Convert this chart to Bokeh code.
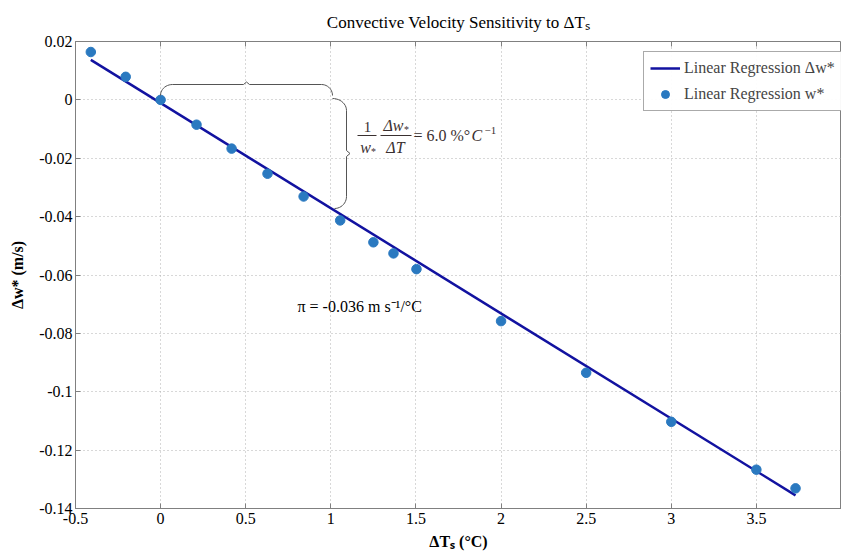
import numpy as np
from bokeh.plotting import figure
from bokeh.models import Label, Legend, LegendItem, FixedTicker, LinearAxis
from bokeh.embed import file_html
from bokeh.resources import INLINE

# ---- data ----
dT = [-0.41, -0.205, 0.0, 0.211, 0.417, 0.628, 0.84, 1.055, 1.25, 1.368, 1.503, 2.0, 2.5, 3.0, 3.5, 3.73]
dw = [0.0164, 0.0079, 0.0, -0.0085, -0.0167, -0.0253, -0.0331, -0.0413, -0.0488, -0.0526, -0.058,
      -0.0758, -0.0935, -0.1103, -0.1267, -0.1331]
fit_x = [-0.41, 3.73]
fit_y = [0.0137, -0.1355]

x_ticks = [-0.5, 0, 0.5, 1, 1.5, 2, 2.5, 3, 3.5]
x_tick_labels = ["-0.5", "0", "0.5", "1", "1.5", "2", "2.5", "3", "3.5"]
y_ticks = [0.02, 0, -0.02, -0.04, -0.06, -0.08, -0.1, -0.12, -0.14]
y_tick_labels = ["0.02", "0", "-0.02", "-0.04", "-0.06", "-0.08", "-0.1", "-0.12", "-0.14"]

W, H = 841, 556
XR = (-0.5, 4.0)
YR = (-0.14, 0.02)
# frame edges in page pixels
FL, FR, FT, FB = 75, 841, 41, 508

def X(px):
    return XR[0] + (px - FL) * (XR[1] - XR[0]) / (FR - FL)

def Y(py):
    return YR[1] - (py - FT) * (YR[1] - YR[0]) / (FB - FT)

SERIF = "Liberation Serif"
GRAY = "#808080"

p = figure(width=W, height=H, output_backend="svg", toolbar_location=None,
           x_range=XR, y_range=YR,
           min_border_left=FL, min_border_right=0,
           min_border_top=FT, min_border_bottom=H - FB,
           title="Convective Velocity Sensitivity to ΔTₛ")
p.title.align = "center"
p.title.text_font = SERIF
p.title.text_font_size = "17px"
p.title.text_font_style = "normal"
p.title.text_color = "black"
p.title.standoff = 20
p.outline_line_color = GRAY
p.outline_line_width = 1

for ax, ticks, labels in ((p.xaxis[0], x_ticks, x_tick_labels), (p.yaxis[0], y_ticks, y_tick_labels)):
    ax.ticker = FixedTicker(ticks=ticks)
    ax.major_label_overrides = {t: l for t, l in zip(ticks, labels)}
    ax.minor_tick_line_color = None
    ax.major_tick_in = 5
    ax.major_tick_out = 0
    ax.axis_line_color = GRAY
    ax.major_tick_line_color = GRAY
    ax.major_label_text_font = SERIF
    ax.major_label_text_font_size = "16px"
    ax.major_label_text_color = "black"
    ax.major_label_standoff = 4
    ax.axis_label_text_font = SERIF
    ax.axis_label_text_font_size = "16px"
    ax.axis_label_text_font_style = "bold"
    ax.axis_label_text_color = "black"

p.xaxis[0].axis_label = "ΔTₛ (°C)"
p.xaxis[0].axis_label_standoff = 6
p.yaxis[0].axis_label = "Δw* (m/s)"
p.yaxis[0].axis_label_standoff = 10
p.yaxis[0].major_label_standoff = 3

top = LinearAxis(ticker=FixedTicker(ticks=x_ticks), major_label_text_alpha=0,
                 major_label_text_font_size="1px", major_label_standoff=0,
                 minor_tick_line_color=None,
                 major_tick_in=5, major_tick_out=0, axis_line_color=None,
                 major_tick_line_color=GRAY)
p.add_layout(top, "above")

p.xgrid[0].ticker = FixedTicker(ticks=x_ticks)
p.ygrid[0].ticker = FixedTicker(ticks=y_ticks)
for g in (p.xgrid[0], p.ygrid[0]):
    g.grid_line_color = "#b0b0b0"
    g.grid_line_dash = "1 3"
    g.grid_line_width = 1

line_r = p.line(fit_x, fit_y, line_width=2.5, color="#1212a0")
sc_r = p.scatter(dT, dw, size=9.5, color="#2a79c0", line_color="#2a79c0")

# ---- braces ----
def arc(cx, cy, rx, ry, a0, a1, n=12):
    t = np.linspace(a0, a1, n)
    return list(cx + rx * np.cos(t)), list(cy + ry * np.sin(t))

bx, by = [], []
xs, ys = arc(172, 95, 12, -11, np.pi, np.pi / 2)
bx += xs; by += ys
bx += [243, 246, 249]; by += [84, 81.5, 84]
xs, ys = arc(321, 95, 11, -11, np.pi / 2, 0)
bx += xs; by += ys
p.line([X(v) for v in bx], [Y(v) for v in by], color="#555555", line_width=1)

vx, vy = [], []
xs, ys = arc(332, 110, 14, -12, np.pi / 2, 0)
vx += xs; vy += ys
vx += [346, 349.5, 346]; vy += [150, 153, 156]
xs, ys = arc(334, 196, 12, 12, 0, np.pi / 2)
vx += xs; vy += ys
p.line([X(v) for v in vx], [Y(v) for v in vy], color="#555555", line_width=1)

def lab(px, py, text, size="15px", align="center", style="normal", color="black", baseline="middle"):
    p.add_layout(Label(x=X(px), y=Y(py), text=text, text_font=SERIF, text_font_size=size,
                       text_align=align, text_baseline=baseline, text_font_style=style,
                       text_color=color))

# equation
EQ = "#3a3030"
lab(367, 126, "1", size="15px", color=EQ)
p.line([X(357), X(376)], [Y(135), Y(135)], color=EQ, line_width=1)
lab(365, 147, "w", size="16px", style="italic", color=EQ)
lab(373, 151, "*", size="10px", color=EQ)
lab(393, 125, "Δw", size="16px", style="italic", color=EQ)
lab(406, 129, "*", size="10px", color=EQ)
p.line([X(380), X(411)], [Y(135), Y(135)], color=EQ, line_width=1)
lab(395, 147, "ΔT", size="16px", style="italic", color=EQ)
lab(413, 135, "= 6.0 %°", size="16px", align="left", color=EQ)
lab(471, 135, "C", size="16px", align="left", style="italic", color=EQ)
lab(484, 130, "−1", size="11px", align="left", color=EQ)

# slope text
lab(297, 306, "π = -0.036 m s⁻¹/°C", size="16px", align="left")

legend = Legend(items=[LegendItem(label="Linear Regression Δw*", renderers=[line_r]),
                       LegendItem(label="Linear Regression w*", renderers=[sc_r])],
                location=(568, 397))
legend.label_text_font = SERIF
legend.label_text_font_size = "16px"
legend.border_line_color = "#555555"
legend.border_line_width = 1
legend.glyph_width = 30
legend.label_standoff = 4
legend.padding = 6
legend.spacing = 6
legend.margin = 0
p.add_layout(legend)

open("out.html", "w").write(file_html(p, INLINE))
